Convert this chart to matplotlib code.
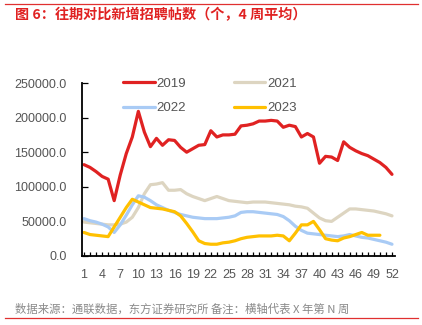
import numpy as np
import matplotlib
matplotlib.use('Agg')
import matplotlib.pyplot as plt
from matplotlib.ticker import FormatStrFormatter, MultipleLocator

plt.rcParams['font.family'] = ['Liberation Sans', 'Noto Sans CJK SC', 'DejaVu Sans']

# --- weekly new job posts, 4-week average ---
weeks = list(range(1, 53))

posts_2019 = [132000, 128000, 122000, 115000, 111000, 80000, 117000, 148000, 172000, 209000,
              179000, 158000, 170000, 160000, 168000, 167000, 157000, 150000, 155000, 160000,
              161000, 181000, 172000, 175000, 175000, 176000, 188000, 189000, 191000, 195000,
              195000, 196000, 195000, 186000, 189000, 187000, 172000, 177000, 172000, 134000,
              144000, 143000, 138000, 165000, 157000, 152000, 148000, 145000, 140000, 135000,
              128000, 118000]

posts_2021 = [49000, 48000, 47000, 46000, 45000, 45000, 46000, 49000, 56000, 70000,
              90000, 103000, 104000, 106000, 95000, 95000, 96000, 90000, 86000, 83000,
              80000, 83000, 86000, 83000, 80000, 79000, 78000, 77000, 78000, 78000,
              78000, 77000, 76000, 75000, 74000, 72000, 71000, 69000, 62000, 55000,
              51000, 50000, 56000, 62000, 68000, 68000, 67000, 66000, 65000, 63000,
              61000, 58000]

posts_2022 = [54000, 51000, 49000, 46000, 42000, 34000, 45000, 59000, 74000, 87000,
              85000, 80000, 74000, 70000, 66000, 63000, 60000, 58000, 56000, 55000,
              54000, 54000, 54000, 55000, 56000, 58000, 63000, 64000, 64000, 63000,
              62000, 61000, 60000, 57000, 51000, 43000, 37000, 33000, 32000, 31000,
              30000, 29000, 28000, 29000, 31000, 29000, 27000, 26000, 24000, 22000,
              20000, 17000]

posts_2023 = [34000, 31000, 30000, 29000, 28000, 42000, 56000, 70000, 82000, 78000,
              74000, 70000, 69000, 68000, 66000, 64000, 58000, 47000, 35000, 22000,
              18000, 17000, 17000, 19000, 20000, 22000, 25000, 27000, 28000, 29000,
              29000, 29000, 30000, 29000, 22000, 33000, 45000, 45000, 50000, 38000,
              25000, 23000, 22000, 26000, 28000, 31000, 34000, 30000, 30000, 30000]

series = [
    ('2019', posts_2019, '#E02222'),
    ('2021', posts_2021, '#DDD5C1'),
    ('2022', posts_2022, '#A9CBF5'),
    ('2023', posts_2023, '#FFC000'),
]

fig = plt.figure(figsize=(4.22, 3.25), dpi=100)
ax = fig.add_axes([82 / 422, 69 / 325, 313 / 422, 173 / 325])

lines = {}
for label, values, color in series:
    lines[label], = ax.plot(weeks[:len(values)], values, color=color, lw=2.3, label=label,
                            solid_capstyle='round', solid_joinstyle='round')

ax.set_xlim(0.67, 52.5)
ax.set_ylim(0, 250000)
ax.set_xticks(range(1, 53, 3))
ax.xaxis.set_minor_locator(MultipleLocator(1))
ax.yaxis.set_major_locator(MultipleLocator(50000))
ax.yaxis.set_major_formatter(FormatStrFormatter('%.1f'))

for side in ['top', 'right']:
    ax.spines[side].set_visible(False)
for side in ['left', 'bottom']:
    ax.spines[side].set_linewidth(1.3)
    ax.spines[side].set_color('black')

ax.tick_params(axis='x', which='both', direction='in', length=3, width=0.9,
               labelsize=9, labelcolor='#555555', pad=9)
ax.tick_params(axis='y', which='major', direction='in', length=4, width=0.9,
               labelsize=9, labelcolor='#555555', pad=11)

# legend laid out column by column: 2019/2022 left, 2021/2023 right
order = ['2019', '2022', '2021', '2023']
ax.legend([lines[k] for k in order], order, ncol=2, frameon=False, loc='upper left',
          bbox_to_anchor=(111 / 422, 1 - 66 / 325), bbox_transform=fig.transFigure,
          fontsize=9.5, labelcolor='#555555', handlelength=2.4, columnspacing=3.6,
          labelspacing=0.9, handletextpad=0.15)

# header and footer
fig.add_artist(plt.Line2D([5 / 422, 418 / 422], [1 - 4 / 325, 1 - 4 / 325], color='#E03030', lw=0.9))
fig.add_artist(plt.Line2D([5 / 422, 418 / 422], [1 - 318 / 325, 1 - 318 / 325], color='#E03030', lw=0.9))
fig.text(15 / 422, 1 - 15 / 325, '图 6：往期对比新增招聘帖数（个，4 周平均）', color='#E02222',
         fontsize=10.2, fontweight='bold', va='center', ha='left',
         family=['Noto Sans CJK SC', 'DejaVu Sans'])
fig.text(15 / 422, 1 - 309 / 325, '数据来源：通联数据，东方证券研究所 备注：横轴代表 X 年第 N 周',
         color='#8A8A8A', fontsize=8.2, va='center', ha='left',
         family=['Noto Sans CJK SC', 'DejaVu Sans'])

fig.savefig('out.png', dpi=100)
